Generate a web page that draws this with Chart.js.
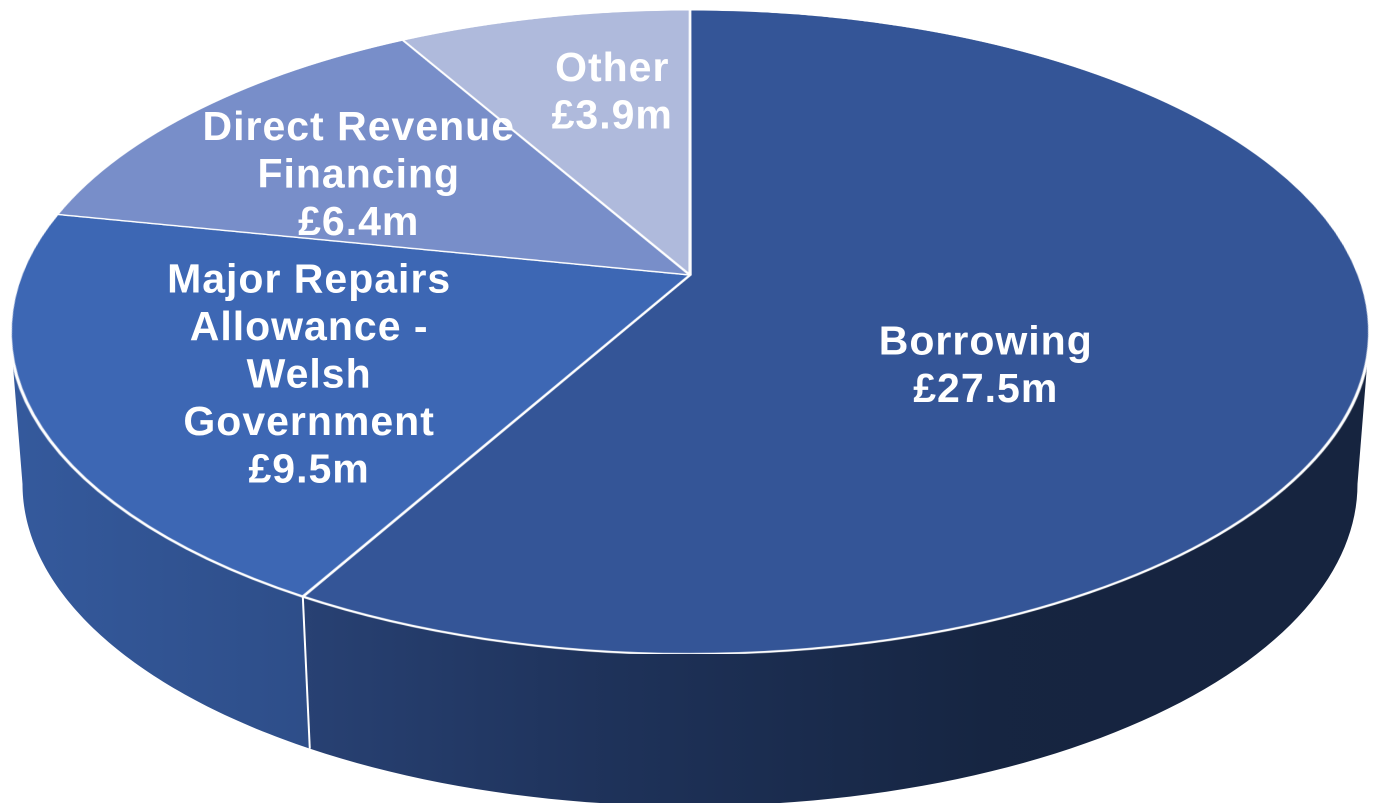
<!DOCTYPE html>
<html lang="en">
<head>
    <meta charset="UTF-8">
    <title>Capital Financing</title>
    <script src="https://cdn.jsdelivr.net/npm/chart.js"></script>
    <style>
        body { margin: 0; background: #ffffff; }
        canvas { display: block; }
    </style>
</head>
<body>
    <canvas id="financeChart" width="1381" height="803"></canvas>

    <script>
        // Funding sources (£m), clockwise from 12 o'clock
        const categories = [
            ['Borrowing'],
            ['Major Repairs', 'Allowance -', 'Welsh', 'Government'],
            ['Direct Revenue', 'Financing'],
            ['Other']
        ];
        const amounts = [27.5, 9.5, 6.4, 3.9];
        const sliceColours = ['#345597', '#3d67b4', '#788ec9', '#afbadc'];

        // label spot per slice: [fraction of radius, angle shift in degrees from slice middle]
        const labelPos = [[0.5, 18], [0.616, -4.35], [0.63, -2.5], [0.675, 3.75]];

        // tilted disc projection
        const CX = 690;        // horizontal centre
        const APEX_Y = 275;    // where the slice edges meet
        const A = 669;         // horizontal half size
        const B = 311.9;       // vertical size
        const K = 0.177;       // perspective strength
        const DEPTH = 152;     // thickness of the disc
        const SHRINK = 0.982;  // bottom rim is a bit narrower

        // side wall lighting, left to right: [stop, brightness]
        const sideLight = [[0, 0.87], [0.22, 0.76], [0.43, 0.6], [0.73, 0.43], [1, 0.42]];

        function project(u, v, bottom) {
            const w = 1 - K * v;
            const a = bottom ? A * SHRINK : A;
            return [CX + a * u / w, APEX_Y + B * v / w + (bottom ? DEPTH : 0)];
        }

        function shade(hex, f) {
            const n = parseInt(hex.slice(1), 16);
            const r = Math.round(((n >> 16) & 255) * f);
            const g = Math.round(((n >> 8) & 255) * f);
            const b = Math.round((n & 255) * f);
            return `rgb(${r},${g},${b})`;
        }

        function drawSides(ctx, arcs) {
            const from = Math.asin(K);
            const to = Math.PI - from;
            arcs.forEach((arc, i) => {
                const a = Math.max(arc.startAngle, from);
                const b = Math.min(arc.endAngle, to);
                if (b <= a) return;
                const steps = 80;
                ctx.beginPath();
                for (let s = 0; s <= steps; s++) {
                    const t = a + (b - a) * s / steps;
                    const p = project(Math.cos(t), Math.sin(t), false);
                    if (s === 0) ctx.moveTo(p[0], p[1]); else ctx.lineTo(p[0], p[1]);
                }
                for (let s = steps; s >= 0; s--) {
                    const t = a + (b - a) * s / steps;
                    const p = project(Math.cos(t), Math.sin(t), true);
                    ctx.lineTo(p[0], p[1]);
                }
                ctx.closePath();
                const grad = ctx.createLinearGradient(CX - 680, 0, CX + 680, 0);
                sideLight.forEach(([stop, f]) => grad.addColorStop(stop, shade(sliceColours[i], f)));
                ctx.fillStyle = grad;
                ctx.fill();
            });

            // white seams where slices meet on the visible side
            ctx.strokeStyle = '#ffffff';
            ctx.lineWidth = 2;
            arcs.forEach(arc => {
                const t = arc.endAngle;
                if (t > from && t < to) {
                    const p1 = project(Math.cos(t), Math.sin(t), false);
                    const p2 = project(Math.cos(t), Math.sin(t), true);
                    ctx.beginPath();
                    ctx.moveTo(p1[0], p1[1]);
                    ctx.lineTo(p2[0], p2[1]);
                    ctx.stroke();
                }
            });
        }

        function drawLabels(ctx, arcs) {
            ctx.save();
            ctx.fillStyle = '#ffffff';
            ctx.font = 'bold 41px "Liberation Sans", Arial, sans-serif';
            ctx.textAlign = 'center';
            ctx.textBaseline = 'alphabetic';
            if ('letterSpacing' in ctx) ctx.letterSpacing = '1px';
            const lh = 47.5;
            const capH = 29.4;
            arcs.forEach((arc, i) => {
                const mid = (arc.startAngle + arc.endAngle) / 2 + labelPos[i][1] * Math.PI / 180;
                const r = labelPos[i][0];
                const p = project(r * Math.cos(mid), r * Math.sin(mid), false);
                const lines = categories[i].concat('£' + amounts[i].toFixed(1) + 'm');
                const first = p[1] - (lines.length - 1) * lh / 2 + capH / 2;
                lines.forEach((line, j) => ctx.fillText(line, p[0], first + j * lh));
            });
            ctx.restore();
        }

        // Chart.js draws a flat pie; this plugin tilts it into a thick disc
        const tiltedPie = {
            id: 'tiltedPie',
            afterDatasetsDraw(chart) {
                const canvas = chart.canvas;
                const ctx = chart.ctx;
                const dpr = chart.currentDevicePixelRatio;
                const arcs = chart.getDatasetMeta(0).data.map(el =>
                    el.getProps(['x', 'y', 'outerRadius', 'startAngle', 'endAngle'], true));
                const pie = arcs[0];
                const R = pie.outerRadius;

                const flat = document.createElement('canvas');
                flat.width = canvas.width;
                flat.height = canvas.height;
                flat.getContext('2d').drawImage(canvas, 0, 0);

                ctx.save();
                ctx.setTransform(1, 0, 0, 1, 0, 0);
                ctx.clearRect(0, 0, canvas.width, canvas.height);

                ctx.setTransform(dpr, 0, 0, dpr, 0, 0);
                drawSides(ctx, arcs);

                // top face, row by row
                ctx.setTransform(1, 0, 0, 1, 0, 0);
                ctx.imageSmoothingEnabled = true;
                ctx.imageSmoothingQuality = 'high';
                const yTop = Math.floor((APEX_Y - B / (1 + K) - 1) * dpr);
                const yBot = Math.ceil((APEX_Y + B / (1 - K) + 1) * dpr);
                for (let yd = yTop; yd <= yBot; yd++) {
                    const dy = (yd + 0.5) / dpr - APEX_Y;
                    const v = dy / (B + K * dy);
                    if (v < -1 || v > 1) continue;
                    const s = A / ((1 - K * v) * R);
                    let srcY = (pie.y + v * R) * dpr - 0.5;
                    srcY = Math.min(Math.max(srcY, 0), flat.height - 1);
                    const dx0 = (CX - pie.x * s) * dpr;
                    ctx.drawImage(flat, 0, srcY, flat.width, 1, dx0, yd, flat.width * s, 1);
                }
                ctx.restore();

                drawLabels(ctx, arcs);
            }
        };

        new Chart(document.getElementById('financeChart'), {
            type: 'pie',
            data: {
                labels: categories,
                datasets: [{
                    data: amounts,
                    backgroundColor: sliceColours,
                    borderColor: '#ffffff',
                    borderWidth: 1.8
                }]
            },
            options: {
                responsive: false,
                animation: false,
                devicePixelRatio: 2,
                events: [],
                layout: { padding: 0 },
                plugins: {
                    legend: { display: false },
                    tooltip: { enabled: false }
                }
            },
            plugins: [tiltedPie]
        });
    </script>
</body>
</html>
